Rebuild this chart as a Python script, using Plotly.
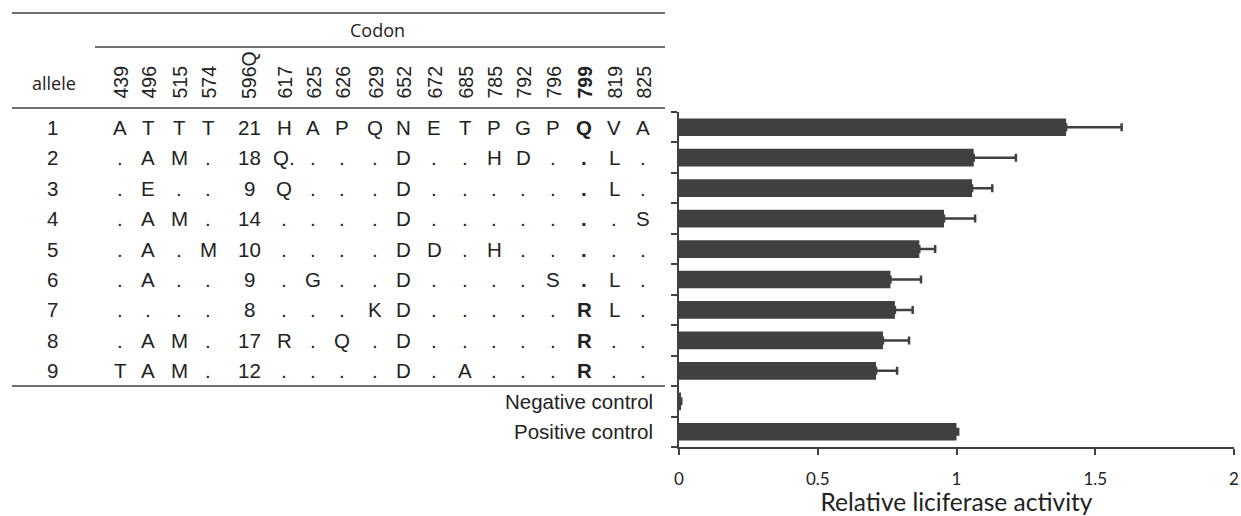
import plotly.graph_objects as go

W, H = 1241, 516

# ---- data -------------------------------------------------------------
codons = ["439", "496", "515", "574", "596Q", "617", "625", "626", "629",
          "652", "672", "685", "785", "792", "796", "799", "819", "825"]
bold_codon = "799"

alleles = ["1", "2", "3", "4", "5", "6", "7", "8", "9"]
allele_1 = ["A", "T", "T", "T", "21", "H", "A", "P", "Q", "N", "E", "T", "P", "G", "P", "Q", "V", "A"]
allele_2 = [".", "A", "M", ".", "18", "Q.", ".", ".", ".", "D", ".", ".", "H", "D", ".", ".", "L", "."]
allele_3 = [".", "E", ".", ".", "9", "Q", ".", ".", ".", "D", ".", ".", ".", ".", ".", ".", "L", "."]
allele_4 = [".", "A", "M", ".", "14", ".", ".", ".", ".", "D", ".", ".", ".", ".", ".", ".", ".", "S"]
allele_5 = [".", "A", ".", "M", "10", ".", ".", ".", ".", "D", "D", ".", "H", ".", ".", ".", ".", "."]
allele_6 = [".", "A", ".", ".", "9", ".", "G", ".", ".", "D", ".", ".", ".", ".", "S", ".", "L", "."]
allele_7 = [".", ".", ".", ".", "8", ".", ".", ".", "K", "D", ".", ".", ".", ".", ".", "R", "L", "."]
allele_8 = [".", "A", "M", ".", "17", "R", ".", "Q", ".", "D", ".", ".", ".", ".", ".", "R", ".", "."]
allele_9 = ["T", "A", "M", ".", "12", ".", ".", ".", ".", "D", ".", "A", ".", ".", ".", "R", ".", "."]
allele_rows = [allele_1, allele_2, allele_3, allele_4, allele_5,
               allele_6, allele_7, allele_8, allele_9]

controls = ["Negative control", "Positive control"]

activity = [1.395, 1.062, 1.056, 0.955, 0.866, 0.762, 0.778, 0.735, 0.710, 0.004, 1.0]
activity_err = [0.200, 0.152, 0.073, 0.112, 0.057, 0.110, 0.064, 0.094, 0.076, 0.004, 0.006]

x_ticks = [0, 0.5, 1, 1.5, 2]
x_title = "Relative liciferase activity"

# ---- layout helpers ------------------------------------------------------
INK = "#404040"
TXT = "#222222"
ARIAL = "Liberation Sans, Arial, sans-serif"
UI = "Open Sans, sans-serif"
LABEL = "Lato, sans-serif"
CELL = 20.5

# horizontal pixel centres of the codon columns
col_x = [120, 148, 179, 208, 249, 284, 313, 342, 375, 403,
         434, 465, 494, 523, 553, 584, 614, 643]


def fx(x):
    return x / W


def fy(y):
    return 1 - y / H


positions = list(range(1, len(activity) + 1))

fig = go.Figure()
fig.add_trace(go.Bar(
    x=activity,
    y=positions,
    orientation="h",
    width=0.58,
    marker=dict(color=INK, line=dict(width=0)),
    error_x=dict(type="data", symmetric=False, array=activity_err,
                 arrayminus=[0] * len(activity_err),
                 color=INK, thickness=2.5, width=4),
    showlegend=False,
    hoverinfo="x",
))

annotations = []


def note(x, y, text, font, yref="paper", **kw):
    base = dict(x=x, y=y, xref="paper", yref=yref, text=text,
                showarrow=False, xanchor="center", yanchor="middle",
                font=font)
    base.update(kw)
    annotations.append(base)


cell_font = dict(family=ARIAL, size=CELL, color=TXT)

# column header
note(fx(377), fy(30), "Codon", dict(family=UI, size=18, color=TXT))
note(fx(54), fy(83), "allele", dict(family=UI, size=18, color=TXT))
for cx, c in zip(col_x, codons):
    label = f"<b>{c}</b>" if c == bold_codon else c
    note(fx(cx), fy(101), label, dict(family=ARIAL, size=19.5, color=TXT),
         textangle=-90, yanchor="bottom")

# allele rows, aligned with the bar categories
for r, (name, row) in enumerate(zip(alleles, allele_rows), start=1):
    note(fx(52), r, name, cell_font, yref="y")
    for cx, c, v in zip(col_x, codons, row):
        label = f"<b>{v}</b>" if c == bold_codon else v
        note(fx(cx), r, label, cell_font, yref="y")

for k, name in enumerate(controls, start=len(alleles) + 1):
    note(fx(655), k, name, cell_font, yref="y", xanchor="right")

rule = dict(color=INK, width=1.5)
shapes = [
    dict(type="line", xref="paper", yref="paper", x0=fx(12), x1=fx(665),
         y0=fy(13), y1=fy(13), line=rule),
    dict(type="line", xref="paper", yref="paper", x0=fx(95), x1=fx(665),
         y0=fy(47), y1=fy(47), line=rule),
    dict(type="line", xref="paper", yref="paper", x0=fx(12), x1=fx(665),
         y0=fy(108), y1=fy(108), line=rule),
    dict(type="line", xref="paper", yref="y", x0=fx(12), x1=fx(665),
         y0=len(alleles) + 0.5, y1=len(alleles) + 0.5, line=rule),
]

fig.update_layout(
    width=W, height=H,
    margin=dict(l=0, r=0, t=0, b=0, autoexpand=False),
    paper_bgcolor="white", plot_bgcolor="white",
    annotations=annotations,
    shapes=shapes,
    xaxis=dict(
        domain=[fx(679), fx(1234)],
        automargin=False,
        range=[0, 2], tickvals=x_ticks, ticktext=[f"{t:g}" for t in x_ticks],
        ticks="outside", ticklen=6, tickwidth=2, tickcolor=INK,
        ticklabelstandoff=10,
        showline=True, linecolor=INK, linewidth=2,
        showgrid=False, zeroline=False,
        tickfont=dict(family=LABEL, size=17, color=TXT),
        title=dict(text=x_title, standoff=22,
                   font=dict(family=LABEL, size=24.5, color=TXT)),
    ),
    yaxis=dict(
        domain=[fy(447), fy(112)],
        automargin=False,
        range=[len(activity) + 0.5, 0.5],
        tickvals=[p + 0.5 for p in range(0, len(activity) + 1)],
        ticktext=[""] * (len(activity) + 1),
        ticks="outside", ticklen=6, tickwidth=2, tickcolor=INK,
        showline=True, linecolor=INK, linewidth=2,
        showgrid=False, zeroline=False,
    ),
)

fig.write_html("out.html")
